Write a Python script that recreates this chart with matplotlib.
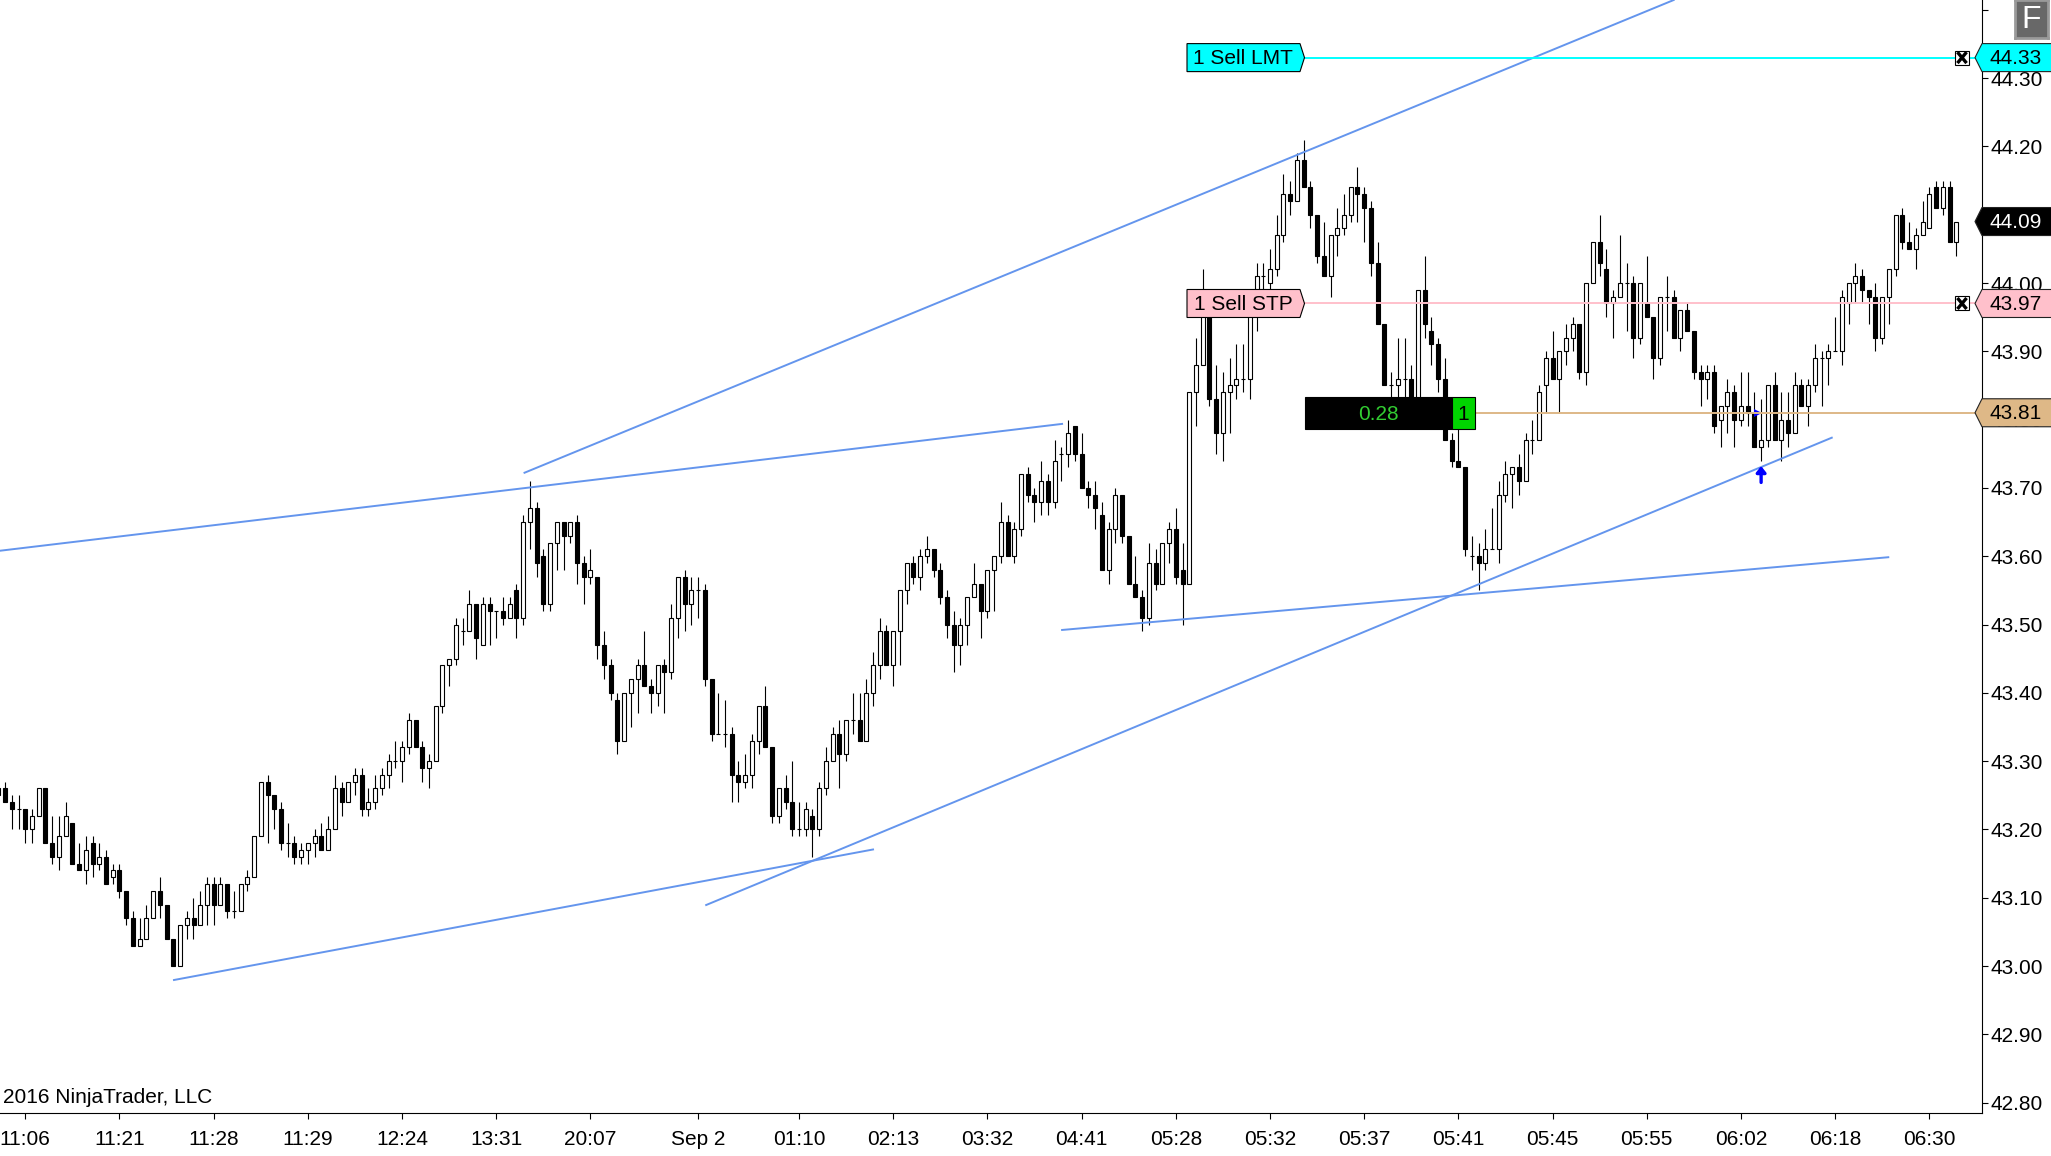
import matplotlib
matplotlib.use('Agg')
import matplotlib.pyplot as plt
import numpy as np
from matplotlib.patches import Polygon, Rectangle
from matplotlib.transforms import IdentityTransform, blended_transform_factory

plt.rcParams['font.family'] = ['Liberation Sans', 'DejaVu Sans']

# OHLC, in cents, first bar is index -4
opens = [
    4326,4326,4324,4323,4323,4320,4322,4326,4318,4316,
    4319,4321,4315,4314,4318,4315,4316,4313,4314,4311,
    4307,4303,4304,4307,4311,4309,4304,4300,4306,4307,
    4306,4309,4312,4309,4312,4308,4308,4312,4313,4319,
    4327,4325,4323,4318,4318,4316,4317,4318,4319,4317,
    4320,4326,4324,4327,4328,4323,4324,4326,4328,4330,
    4330,4332,4336,4332,4329,4330,4338,4344,4345,4349,
    4349,4353,4347,4353,4352,4352,4351,4355,4351,4365,
    4367,4360,4353,4362,4365,4363,4365,4359,4357,4357,
    4347,4344,4339,4333,4340,4342,4344,4341,4340,4344,
    4343,4351,4357,4353,4355,4355,4342,4334,4334,4334,
    4328,4327,4328,4333,4338,4332,4322,4326,4324,4320,
    4320,4322,4320,4326,4330,4334,4331,4336,4336,4333,
    4340,4344,4349,4344,4349,4355,4359,4357,4360,4361,
    4358,4354,4350,4347,4350,4354,4356,4352,4358,4360,
    4365,4360,4364,4372,4369,4368,4371,4368,4375,4375,
    4379,4375,4370,4369,4366,4358,4364,4369,4363,4356,
    4354,4351,4359,4356,4362,4364,4358,4356,4384,4388,
    4396,4383,4378,4384,4385,4386,4386,4396,4401,4400,
    4402,4407,4413,4412,4418,4414,4410,4404,4401,4407,
    4408,4410,4414,4413,4411,4403,4394,4385,4385,4386,
    4386,4382,4399,4393,4391,4386,4377,4374,4373,4360,
    4360,4359,4361,4361,4369,4372,4373,4371,4377,4377,
    4385,4389,4386,4390,4392,4394,4387,4400,4406,4402,
    4397,4398,4400,4400,4392,4397,4395,4389,4398,4398,
    4392,4396,4393,4387,4386,4387,4380,4382,4384,4380,
    4382,4381,4376,4377,4385,4377,4380,4378,4385,4382,
    4385,4389,4389,4390,4390,4397,4400,4401,4399,4398,
    4392,4398,4402,4410,4406,4405,4407,4408,4414,4411,
    4414,4406]
closes = [
    4325,4324,4323,4323,4320,4322,4326,4318,4316,4319,
    4322,4315,4314,4317,4315,4316,4312,4314,4311,4307,
    4303,4304,4307,4311,4309,4304,4300,4306,4307,4306,
    4309,4312,4309,4312,4308,4308,4312,4313,4319,4327,
    4325,4323,4318,4318,4316,4317,4318,4319,4317,4320,
    4326,4324,4327,4328,4323,4324,4326,4328,4330,4330,
    4332,4336,4332,4329,4330,4338,4344,4345,4350,4349,
    4353,4348,4353,4352,4352,4351,4353,4351,4365,4367,
    4359,4353,4362,4365,4363,4365,4359,4357,4358,4347,
    4344,4340,4333,4340,4342,4344,4341,4340,4344,4343,
    4351,4357,4353,4355,4355,4342,4334,4334,4334,4328,
    4327,4328,4333,4338,4332,4322,4326,4324,4320,4320,
    4323,4320,4326,4330,4334,4331,4336,4336,4333,4340,
    4344,4349,4344,4349,4355,4359,4357,4360,4361,4358,
    4354,4350,4347,4350,4354,4356,4352,4358,4360,4365,
    4360,4364,4372,4369,4368,4371,4368,4374,4375,4378,
    4375,4370,4369,4367,4358,4364,4369,4363,4356,4354,
    4351,4359,4356,4362,4364,4357,4356,4384,4388,4396,
    4383,4378,4384,4385,4386,4386,4396,4401,4401,4402,
    4407,4413,4412,4418,4414,4410,4404,4401,4407,4408,
    4410,4414,4413,4411,4403,4394,4385,4385,4386,4386,
    4382,4399,4394,4391,4386,4377,4374,4373,4361,4360,
    4359,4361,4361,4369,4372,4373,4371,4377,4377,4384,
    4389,4386,4390,4392,4394,4387,4400,4406,4403,4397,
    4398,4400,4400,4392,4400,4395,4389,4398,4398,4392,
    4396,4393,4387,4386,4387,4379,4382,4384,4380,4382,
    4381,4376,4377,4385,4377,4380,4378,4385,4382,4385,
    4389,4389,4390,4390,4398,4400,4401,4399,4398,4392,
    4398,4402,4410,4406,4405,4407,4409,4413,4411,4414,
    4406,4409]
highs = [
    4327,4327,4325,4325,4323,4323,4326,4326,4322,4322,
    4324,4321,4318,4319,4319,4318,4317,4315,4315,4311,
    4308,4307,4309,4311,4313,4309,4304,4306,4308,4310,
    4311,4313,4313,4313,4312,4311,4312,4314,4319,4327,
    4328,4325,4324,4321,4319,4318,4318,4320,4321,4322,
    4328,4327,4327,4329,4329,4326,4328,4329,4331,4333,
    4333,4337,4336,4333,4331,4338,4344,4345,4351,4351,
    4355,4353,4354,4354,4352,4354,4354,4356,4366,4371,
    4368,4361,4362,4365,4365,4365,4366,4360,4361,4357,
    4349,4345,4340,4340,4342,4345,4349,4342,4344,4345,
    4353,4357,4358,4357,4357,4356,4342,4340,4339,4335,
    4330,4331,4334,4338,4341,4332,4326,4328,4330,4324,
    4324,4323,4327,4332,4335,4336,4336,4340,4340,4342,
    4346,4351,4350,4349,4355,4359,4360,4361,4363,4361,
    4359,4355,4352,4351,4354,4359,4356,4358,4360,4368,
    4366,4365,4372,4373,4370,4374,4372,4377,4376,4380,
    4379,4378,4371,4371,4368,4365,4370,4369,4363,4360,
    4355,4362,4361,4362,4365,4367,4362,4384,4392,4402,
    4397,4388,4387,4389,4391,4391,4397,4403,4403,4405,
    4410,4416,4415,4419,4421,4415,4410,4409,4407,4411,
    4413,4414,4417,4414,4412,4406,4394,4387,4392,4392,
    4388,4399,4404,4395,4392,4389,4378,4381,4373,4363,
    4362,4364,4367,4371,4374,4373,4375,4378,4380,4385,
    4390,4393,4390,4394,4395,4394,4400,4406,4410,4405,
    4399,4407,4403,4401,4400,4404,4395,4398,4401,4399,
    4396,4397,4393,4388,4388,4388,4382,4386,4385,4387,
    4387,4384,4383,4385,4387,4384,4384,4387,4386,4386,
    4391,4390,4391,4395,4399,4400,4403,4402,4399,4400,
    4398,4402,4410,4411,4409,4408,4412,4414,4415,4415,
    4415,4409]
lows = [
    4325,4324,4320,4320,4318,4318,4322,4318,4315,4314,
    4319,4315,4314,4312,4313,4314,4312,4312,4310,4306,
    4303,4303,4304,4307,4307,4304,4300,4300,4304,4304,
    4306,4306,4306,4309,4307,4307,4308,4311,4313,4319,
    4318,4320,4317,4316,4315,4315,4315,4316,4317,4317,
    4320,4322,4324,4325,4322,4322,4323,4325,4326,4329,
    4327,4331,4332,4327,4326,4330,4337,4341,4344,4347,
    4349,4345,4347,4347,4348,4350,4351,4348,4350,4361,
    4357,4352,4352,4358,4358,4362,4356,4353,4356,4345,
    4342,4339,4331,4333,4335,4337,4341,4337,4338,4337,
    4342,4348,4349,4350,4351,4341,4333,4334,4332,4324,
    4324,4326,4326,4331,4332,4321,4321,4323,4319,4319,
    4319,4316,4319,4325,4330,4326,4330,4334,4333,4333,
    4338,4342,4344,4341,4344,4353,4356,4355,4359,4357,
    4353,4348,4343,4344,4347,4354,4348,4351,4352,4359,
    4360,4359,4363,4368,4365,4366,4366,4367,4371,4373,
    4374,4370,4367,4364,4358,4356,4362,4362,4356,4354,
    4349,4350,4355,4356,4359,4356,4350,4356,4379,4388,
    4382,4375,4374,4378,4383,4384,4383,4393,4399,4399,
    4401,4406,4410,4412,4414,4408,4403,4401,4398,4404,
    4407,4409,4409,4406,4401,4394,4385,4382,4382,4382,
    4381,4381,4392,4388,4384,4377,4373,4373,4360,4358,
    4355,4358,4361,4359,4368,4367,4369,4371,4375,4377,
    4381,4386,4381,4388,4390,4386,4385,4400,4401,4395,
    4392,4398,4393,4389,4391,4395,4386,4388,4393,4392,
    4390,4393,4386,4382,4383,4378,4376,4378,4376,4379,
    4379,4376,4374,4376,4377,4374,4376,4378,4382,4379,
    4384,4382,4385,4390,4388,4394,4397,4397,4394,4390,
    4391,4394,4401,4405,4405,4402,4407,4408,4411,4410,
    4406,4404]

x_tick_bars = [0, 14, 28, 42, 56, 70, 84, 100, 115, 129, 143, 157, 171, 185, 199, 213, 227, 241, 255, 269, 283]
x_tick_labels = ['11:06', '11:21', '11:28', '11:29', '12:24', '13:31', '20:07', 'Sep 2', '01:10', '02:13', '03:32',
                 '04:41', '05:28', '05:32', '05:37', '05:41', '05:45', '05:55', '06:02', '06:18', '06:30']
y_ticks = [44.4, 44.3, 44.2, 44.1, 44.0, 43.9, 43.8, 43.7, 43.6, 43.5, 43.4, 43.3, 43.2, 43.1, 43.0, 42.9, 42.8]

# trend lines as (bar, price) end points
trend_lines = [
    ((74.2, 43.7222), (245, 44.4143)),
    ((-3.76, 43.608), (154.1, 43.7937)),
    ((154.1, 43.492), (276.9, 43.5985)),
    ((101.2, 43.0893), (268.5, 43.7735)),
    ((22.1, 42.9795), (126, 43.1706)),
]

limit_price = 44.33
stop_price = 43.97
entry_price = 43.81
last_price = 44.09
profit_text = '0.28'

PX_W = 6.728   # pixels per bar
PX_P = 683.0   # pixels per 1.00 of price

fig = plt.figure(figsize=(20.51, 11.56), dpi=100)
ax = fig.add_axes([0, 43 / 1156, 1982 / 2051, 1113 / 1156])
ax.set_xlim(-25.3 / PX_W, (1982 - 25.3) / PX_W)
ax.set_ylim(44 - (1113 - 283) / PX_P, 44 + 283 / PX_P)

o = np.array(opens) / 100
c = np.array(closes) / 100
h = np.array(highs) / 100
l = np.array(lows) / 100
bars = np.arange(len(o)) - 4

# candles
ax.vlines(bars, l, h, color='black', lw=0.8, zorder=2)
up = c >= o
ax.bar(bars[up], (c - o)[up], bottom=o[up], width=4.0 / PX_W, facecolor='white', edgecolor='black', lw=0.8, zorder=3)
ax.bar(bars[~up], (o - c)[~up], bottom=c[~up], width=4.0 / PX_W, facecolor='black', edgecolor='black', lw=0.8, zorder=3)

for a, b in trend_lines:
    ax.plot([a[0], b[0]], [a[1], b[1]], color='#6495ed', lw=1.4, zorder=4)

# entry markers
ax.plot([257.6], [43.81], marker='>', ms=6, color='#0000ff', mew=0, zorder=3.5)
ax.annotate('', xy=(258, 43.732), xytext=(258, 43.708), zorder=4,
            arrowprops=dict(arrowstyle='-|>,head_width=0.28,head_length=0.35', color='#0000ff', lw=2.4, shrinkA=0, shrinkB=0))

tr = blended_transform_factory(IdentityTransform(), ax.transData)
dh = 14 / PX_P


def right_tag(price, txt, face, tcolor='black'):
    pts = [(1975, price), (1982, price + dh), (2060, price + dh), (2060, price - dh), (1982, price - dh)]
    ax.add_patch(Polygon(pts, closed=True, facecolor=face, edgecolor='#222222', lw=0.8, transform=tr, clip_on=False, zorder=10))
    ax.text(1990, price + 0.0015, txt, color=tcolor, fontsize=15, va='center_baseline', ha='left', transform=tr, clip_on=False, zorder=11)


def left_tag(price, txt, face):
    pts = [(1187, price + dh), (1300, price + dh), (1304.5, price), (1300, price - dh), (1187, price - dh)]
    ax.add_patch(Polygon(pts, closed=True, facecolor=face, edgecolor='black', lw=0.8, transform=tr, zorder=10))
    ax.text(1243, price + 0.0015, txt, color='black', fontsize=15, va='center_baseline', ha='center', transform=tr, zorder=11)


def close_box(price):
    d = 7 / PX_P
    ax.add_patch(Rectangle((1955, price - d), 14, 2 * d, facecolor='white', edgecolor='black', lw=0.8, transform=tr, zorder=10))
    ax.plot([1958.5, 1965.5], [price + 0.6 * d, price - 0.6 * d], color='black', lw=2.4, transform=tr, zorder=11)
    ax.plot([1958.5, 1965.5], [price - 0.6 * d, price + 0.6 * d], color='black', lw=2.4, transform=tr, zorder=11)


# order lines
ax.plot([1305, 1975], [limit_price, limit_price], color='#00ffff', lw=1.4, transform=tr, zorder=6)
ax.plot([1305, 1975], [stop_price, stop_price], color='#ffc0cb', lw=1.4, transform=tr, zorder=6)
ax.plot([1474, 1975], [entry_price, entry_price], color='#deb887', lw=1.4, transform=tr, zorder=6)

left_tag(limit_price, '1 Sell LMT', '#00ffff')
left_tag(stop_price, '1 Sell STP', '#ffc0cb')
close_box(limit_price)
close_box(stop_price)

right_tag(limit_price, '44.33', '#00ffff')
right_tag(last_price, '44.09', 'black', 'white')
right_tag(stop_price, '43.97', '#ffc0cb')
right_tag(entry_price, '43.81', '#deb887')

# position box
box_h = 16 / PX_P
ax.add_patch(Rectangle((1305, entry_price - box_h), 147, 2 * box_h, facecolor='black', edgecolor='black', lw=0.8, transform=tr, zorder=10))
ax.add_patch(Rectangle((1452, entry_price - box_h), 22.5, 2 * box_h, facecolor='#00d400', edgecolor='black', lw=0.8, transform=tr, zorder=10))
ax.text(1378, entry_price, profit_text, color='#32cd32', fontsize=15, va='center_baseline', ha='center', transform=tr, zorder=11)
ax.text(1463, entry_price, '1', color='black', fontsize=15, va='center_baseline', ha='center', transform=tr, zorder=11)

# F button top right
ax_f = fig.add_axes([2015 / 2051, 1 - 38 / 1156, 33 / 2051, 38 / 1156], zorder=20)
ax_f.set_xticks([])
ax_f.set_yticks([])
ax_f.set_facecolor('#686868')
for s in ax_f.spines.values():
    s.set_color('#9a9a9a')
    s.set_linewidth(2)
ax_f.text(0.5, 0.48, 'F', color='white', fontsize=23, ha='center', va='center', transform=ax_f.transAxes)

ax.text(3, 44 - (1095 - 283) / PX_P, '2016 NinjaTrader, LLC', fontsize=15, va='center_baseline', ha='left', transform=tr, zorder=5)

# axes
ax.spines['top'].set_visible(False)
ax.spines['left'].set_visible(False)
ax.spines['right'].set_linewidth(0.8)
ax.spines['bottom'].set_linewidth(0.8)
ax.yaxis.tick_right()
ax.set_yticks(y_ticks)
ax.set_yticklabels([''] + ['%.2f' % v for v in y_ticks[1:]])
ax.set_xticks(x_tick_bars)
ax.set_xticklabels(x_tick_labels)
ax.tick_params(axis='y', length=4.3, width=0.8, pad=1.5, labelsize=15)
ax.tick_params(axis='x', length=4.3, width=0.8, pad=8, labelsize=15)

fig.savefig('out.png', dpi=100)
